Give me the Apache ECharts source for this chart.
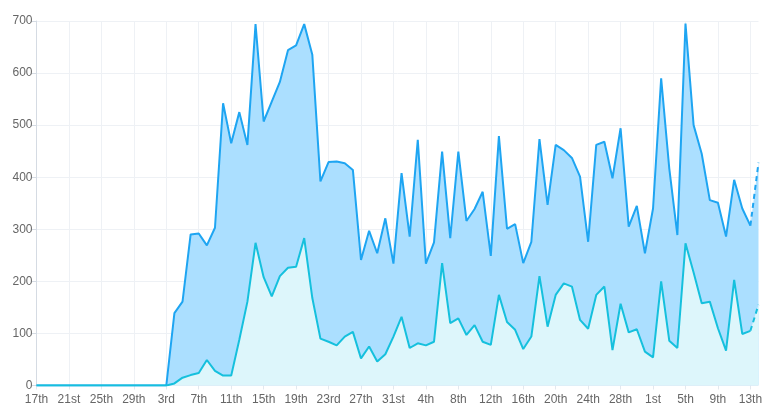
<!DOCTYPE html>
<html>
<head>
<meta charset="utf-8">
<script src="https://cdn.jsdelivr.net/npm/echarts@6/dist/echarts.min.js"></script>
<style>
  html, body { margin: 0; padding: 0; background: #fff; }
  #chart { width: 768px; height: 413px; }
</style>
</head>
<body>
<div id="chart"></div>
<script>
const days = [
  "17th","18th","19th","20th","21st","22nd","23rd","24th","25th","26th","27th","28th","29th","30th",
  "1st","2nd","3rd","4th","5th","6th","7th","8th","9th","10th","11th","12th","13th","14th","15th","16th",
  "17th","18th","19th","20th","21st","22nd","23rd","24th","25th","26th","27th","28th","29th","30th","31st",
  "1st","2nd","3rd","4th","5th","6th","7th","8th","9th","10th","11th","12th","13th","14th","15th","16th",
  "17th","18th","19th","20th","21st","22nd","23rd","24th","25th","26th","27th","28th","29th","30th","31st",
  "1st","2nd","3rd","4th","5th","6th","7th","8th","9th","10th","11th","12th","13th","14th"
];

const totalValues = [
  0, 0, 0, 0, 0, 0, 0, 0, 0, 0, 0, 0, 0, 0, 0, 0, 0,
  139, 161, 290, 292, 269, 303, 542, 465, 525, 462, 694,
  507, 545, 583, 644, 653, 694, 635, 392, 429, 430, 427, 414,
  241, 297, 254, 321, 234,
  408, 286, 472, 234, 275, 449, 283, 449, 316, 339, 372, 249, 479, 301, 310, 235,
  276, 473, 347, 462, 452, 437, 401, 276, 462, 468, 398, 494, 305, 345, 254,
  340, 590, 417, 289, 695, 500, 445, 356, 351, 286, 395, 340, 307, 428
];

const subsetValues = [
  0, 0, 0, 0, 0, 0, 0, 0, 0, 0, 0, 0, 0, 0, 0, 0, 0,
  4, 15, 20, 24, 49, 28, 19, 19, 88, 161, 274,
  208, 171, 210, 226, 228, 283, 168, 90, 84, 77, 94, 103,
  52, 75, 46, 60, 94,
  132, 72, 81, 77, 84, 235, 120, 129, 97, 116, 84, 78, 174, 122, 107, 70,
  94, 210, 113, 174, 196, 190, 126, 109, 174, 190, 68, 157, 102, 108, 65,
  54, 200, 86, 72, 273, 217, 158, 161, 110, 67, 203, 99, 105, 155
];

const yTicks = { min: 0, max: 700, interval: 100 };

const upperLine = "#1ea5f2";
const upperFill = "#abdfff";
const lowerLine = "#15c0dd";
const lowerFill = "#ddf6fb";

// last point is partial: draw its segment dashed
function solidPart(values) {
  return values.map((v, i) => (i < values.length - 1 ? v : "-"));
}
function dashedPart(values) {
  return values.map((v, i) => (i >= values.length - 2 ? v : "-"));
}

const chart = echarts.init(document.getElementById("chart"), null, { renderer: "canvas" });

const lineBase = {
  type: "line",
  symbol: "none",
  silent: true,
  animation: false
};

chart.setOption({
  animation: false,
  grid: { left: 36.5, right: 9.5, top: 21, bottom: 27.5 },
  xAxis: {
    type: "category",
    data: days,
    boundaryGap: false,
    axisLine: { show: false },
    axisTick: { show: true, interval: 3, length: 4, lineStyle: { color: "#e3e8ee" } },
    axisLabel: {
      interval: 3,
      color: "#666",
      fontFamily: "Liberation Sans, Arial, sans-serif",
      fontSize: 12,
      margin: 8
    },
    splitLine: { show: true, interval: 3, lineStyle: { color: "#eef1f5", width: 1 } }
  },
  yAxis: {
    type: "value",
    min: yTicks.min,
    max: yTicks.max,
    interval: yTicks.interval,
    axisLine: { show: true, lineStyle: { color: "#d5dbe3" } },
    axisTick: { show: true, length: 5, lineStyle: { color: "#d5dbe3" } },
    axisLabel: {
      color: "#666",
      fontFamily: "Liberation Sans, Arial, sans-serif",
      fontSize: 12,
      margin: 4
    },
    splitLine: { lineStyle: { color: "#eef1f5", width: 1 } }
  },
  series: [
    Object.assign({}, lineBase, {
      name: "total area",
      data: totalValues,
      lineStyle: { width: 0, opacity: 0 },
      areaStyle: { color: upperFill, opacity: 1 },
      z: 1
    }),
    Object.assign({}, lineBase, {
      name: "subset area",
      data: subsetValues,
      lineStyle: { width: 0, opacity: 0 },
      areaStyle: { color: lowerFill, opacity: 1 },
      z: 2
    }),
    Object.assign({}, lineBase, {
      name: "total",
      data: solidPart(totalValues),
      lineStyle: { color: upperLine, width: 2 },
      z: 3
    }),
    Object.assign({}, lineBase, {
      name: "total partial",
      data: dashedPart(totalValues),
      lineStyle: { color: upperLine, width: 2, type: [5, 4] },
      z: 3
    }),
    Object.assign({}, lineBase, {
      name: "subset",
      data: solidPart(subsetValues),
      lineStyle: { color: lowerLine, width: 2 },
      z: 4
    }),
    Object.assign({}, lineBase, {
      name: "subset partial",
      data: dashedPart(subsetValues),
      lineStyle: { color: lowerLine, width: 2, type: [5, 4] },
      z: 4
    })
  ]
});
</script>
</body>
</html>
